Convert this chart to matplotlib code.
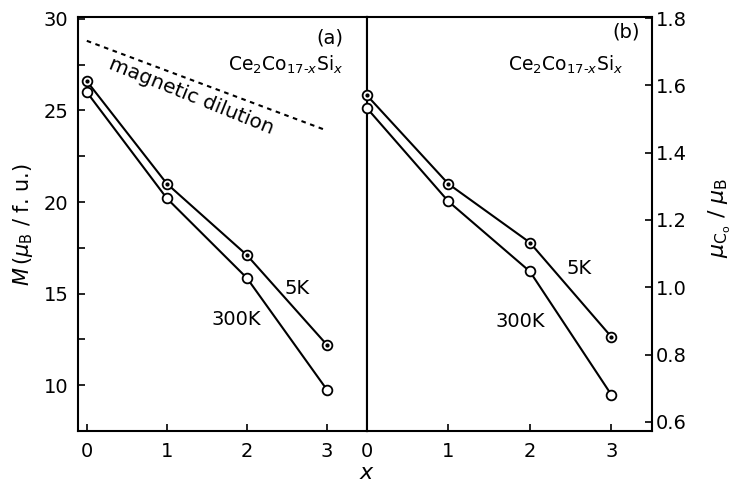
import matplotlib
matplotlib.use("Agg")
import matplotlib.pyplot as plt
from matplotlib.ticker import MultipleLocator

# ---- data ----
x_vals = [0, 1, 2, 3]
M_5K = [26.6, 21.0, 17.1, 12.2]
M_300K = [26.0, 20.2, 15.85, 9.75]
mu_5K = [1.57, 1.307, 1.133, 0.853]
mu_300K = [1.532, 1.255, 1.047, 0.681]
dilution_x = [0, 3]
dilution_y = [28.8, 23.9]
x_ticks = [0, 1, 2, 3]
left_yticks = [10, 15, 20, 25, 30]
right_yticks = [0.6, 0.8, 1.0, 1.2, 1.4, 1.6, 1.8]
right_yticklabels = ['0.6', '0.8', '1.0', '1.2', '1.4', '1.6', '1.8']

plt.rcParams['font.family'] = ['DejaVu Sans']
plt.rcParams['mathtext.fontset'] = 'dejavusans'

W, H = 733, 484
fig = plt.figure(figsize=(W / 100, H / 100), dpi=100)

L = 78 / W
MID = 367 / W
R = 652 / W
B = (H - 431) / H
T = (H - 17) / H

axL = fig.add_axes([L, B, MID - L, T - B])
axR = fig.add_axes([MID, B, R - MID, T - B])

lw = 1.5
fs = 14

def draw_series(ax, xs, ys, dotted):
    ax.plot(xs, ys, color='black', lw=lw, marker='o', ms=7,
            mfc='white', mec='black', mew=1.3, zorder=3, clip_on=False)
    if dotted:
        ax.plot(xs, ys, ls='none', marker='o', ms=2.0, color='black',
                zorder=4, clip_on=False)

# left panel
draw_series(axL, x_vals, M_5K, True)
draw_series(axL, x_vals, M_300K, False)
axL.plot(dilution_x, dilution_y, color='black', lw=1.5, ls=(0, (2.2, 2.2)))
axL.set_xlim(-0.11, 3.5)
axL.set_ylim(7.5, 30.1)
axL.set_xticks(x_ticks)
axL.set_yticks(left_yticks)
axL.yaxis.set_minor_locator(MultipleLocator(2.5))
axL.tick_params(axis='both', which='both', direction='in', labelsize=fs,
                length=5, width=1.2, pad=7, right=False, top=False)
axL.tick_params(axis='y', which='minor', length=5)
axL.tick_params(axis='x', pad=8)

axL.text(1.3, 25.75, 'magnetic dilution', rotation=-22, fontsize=14.5,
         ha='center', va='center')
axL.text(3.2, 28.95, '(a)', fontsize=fs, ha='right', va='center')
axL.text(3.2, 27.5, r'Ce$_2$Co$_{17\text{-}x}$Si$_x$', fontsize=13.5, ha='right', va='center')
axL.text(2.63, 15.27, '5K', fontsize=fs, ha='center', va='center')
axL.text(1.87, 13.6, '300K', fontsize=fs, ha='center', va='center')

# right panel
draw_series(axR, x_vals, mu_5K, True)
draw_series(axR, x_vals, mu_300K, False)
axR.set_xlim(0, 3.5)
axR.set_ylim(0.573, 1.803)
axR.set_xticks(x_ticks)
axR.set_yticks(right_yticks)
axR.set_yticklabels(right_yticklabels)
axR.yaxis.tick_right()
axR.tick_params(axis='both', which='both', direction='in', labelsize=fs,
                length=5, width=1.2, top=False, left=False)
axR.tick_params(axis='y', pad=3)
axR.tick_params(axis='x', pad=8)

axR.text(3.35, 1.758, '(b)', fontsize=fs, ha='right', va='center')
axR.text(3.15, 1.66, r'Ce$_2$Co$_{17\text{-}x}$Si$_x$', fontsize=13.5, ha='right', va='center')
axR.text(2.6, 1.055, '5K', fontsize=fs, ha='center', va='center')
axR.text(1.88, 0.897, '300K', fontsize=fs, ha='center', va='center')

for ax in (axL, axR):
    for s in ax.spines.values():
        s.set_linewidth(1.5)

fig.text(23 / W, 1 - 225 / H, r'$M\,(\mu_\mathrm{B}$ / f. u.)', rotation=90,
         fontsize=15, ha='center', va='center')
fig.text(720 / W, 1 - 218 / H, r'$\mu_{\mathrm{C}_\mathrm{o}}$ / $\mu_\mathrm{B}$', rotation=90,
         fontsize=16, ha='center', va='center')
fig.text(MID, 1 - 473 / H, r'$x$', fontsize=16, ha='center', va='center')

fig.savefig('out.png', dpi=100)
